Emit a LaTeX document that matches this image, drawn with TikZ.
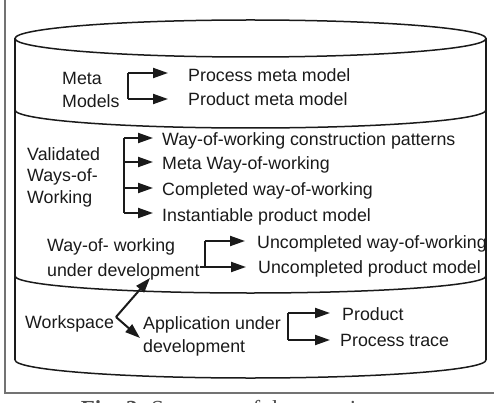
\documentclass[tikz,border=0pt]{standalone}
\usepackage{fontspec}
\setmainfont{Liberation Sans}
\newfontfamily\capfont{Liberation Serif}
\usetikzlibrary{arrows.meta}
\definecolor{ink}{HTML}{1A1A1A}
\begin{document}
\begin{tikzpicture}[x=1pt,y=-1pt,
  cyl/.style={draw=ink,line width=1.5pt},
  lbl/.style={inner sep=0pt,anchor=base west,text=ink,font=\fontsize{17.8}{21.5}\selectfont,align=left},
  brk/.style={draw=ink,line width=2pt},
  arr/.style={draw=ink,line width=2pt,-{Triangle[length=15pt,width=10pt]}},
  frame/.style={draw=black!55,line width=1.3pt}]
\useasboundingbox (0,0) rectangle (494,403);
\clip (0,0) rectangle (494,403);
% outer frame
\draw[frame] (5,-10) -- (5,393) -- (510,393);
% caption (cut by the lower edge, as in the reference)
\node[inner sep=0pt,anchor=base,text=black!70,font=\capfont\fontsize{23}{23}\selectfont] (cap) at (237,416) {\textbf{Fig. 3.} Structure of the repository};
% cylinder
\draw[cyl] (250.5,38.5) ellipse [x radius=235.5, y radius=18.5];
\draw[cyl] (15,38.5) -- (15,360);
\draw[cyl] (486,38.5) -- (486,360);
\draw[cyl] (15,110) arc[start angle=180, end angle=0, x radius=235.5, y radius=18];
\draw[cyl] (15,276) arc[start angle=180, end angle=0, x radius=235.5, y radius=17];
\draw[cyl] (15,360) arc[start angle=180, end angle=0, x radius=235.5, y radius=18];
% Meta models
\node[lbl,font=\fontsize{17.8}{23}\selectfont] (meta) at (62,108) {Meta\\Models};
\node[lbl] (procmm) at (188,82) {Process meta model};
\node[lbl] (prodmm) at (188,106) {Product meta model};
\coordinate (b1t) at (128,73);
\coordinate (b1b) at (128,99);
\draw[brk] (b1t) -- (b1b);
\draw[arr,shorten >=20pt] (b1t) -- (procmm.west |- b1t);
\draw[arr,shorten >=20pt] (b1b) -- (prodmm.west |- b1b);
% Validated ways-of-working
\node[lbl] (vww) at (27,203) {Validated\\Ways-of-\\Working};
\node[lbl] (r1) at (162,146) {Way-of-working construction patterns};
\node[lbl] (r2) at (162,170) {Meta Way-of-working};
\node[lbl] (r3) at (162,195) {Completed way-of-working};
\node[lbl] (r4) at (162,221) {Instantiable product model};
\coordinate (b2t) at (124,138);
\coordinate (b2b) at (124,213);
\draw[brk] (b2t) -- (b2b);
\draw[arr,shorten >=9pt] (b2t) -- (r1.west |- b2t);
\draw[arr,shorten >=9pt] (124,162) -- (r2.west |- 124,162);
\draw[arr,shorten >=9pt] (124,188) -- (r3.west |- 124,188);
\draw[arr,shorten >=9pt] (b2b) -- (r4.west |- b2b);
% Way-of-working under development
\node[lbl,font=\fontsize{17.8}{25}\selectfont] (wud) at (47,276) {Way-of- working\\under development};
\node[lbl] (u1) at (257,248) {Uncompleted way-of-working};
\node[lbl] (u2) at (258,273) {Uncompleted product model};
\coordinate (b3t) at (205,241);
\coordinate (b3b) at (205,267);
\draw[brk] (b3t) -- (b3b);
\draw[brk] (wud.east |- b3b) -- (b3b);
\draw[arr,shorten >=12pt] (b3t) -- (u1.west |- b3t);
\draw[arr,shorten >=12pt] (b3b) -- (u2.west |- b3b);
% Workspace
\node[lbl] (ws) at (25,328) {Workspace};
\node[lbl,font=\fontsize{17.8}{23}\selectfont] (app) at (143,352) {Application under\\development};
\node[lbl] (p1) at (342,320) {Product};
\node[lbl] (p2) at (340,346) {Process trace};
\coordinate (wso) at (116,317);
\coordinate (wse1) at (150,278);
\coordinate (wse2) at (140,338);
\draw[arr] (wso) -- (wse1);
\draw[arr] (wso) -- (wse2);
\coordinate (b4t) at (288,313);
\coordinate (b4b) at (288,340);
\draw[brk] (b4t) -- (b4b);
\draw[arr,shorten >=12pt] (b4t) -- (p1.west |- b4t);
\draw[arr,shorten >=10pt] (b4b) -- (p2.west |- b4b);
\end{tikzpicture}
\end{document}
